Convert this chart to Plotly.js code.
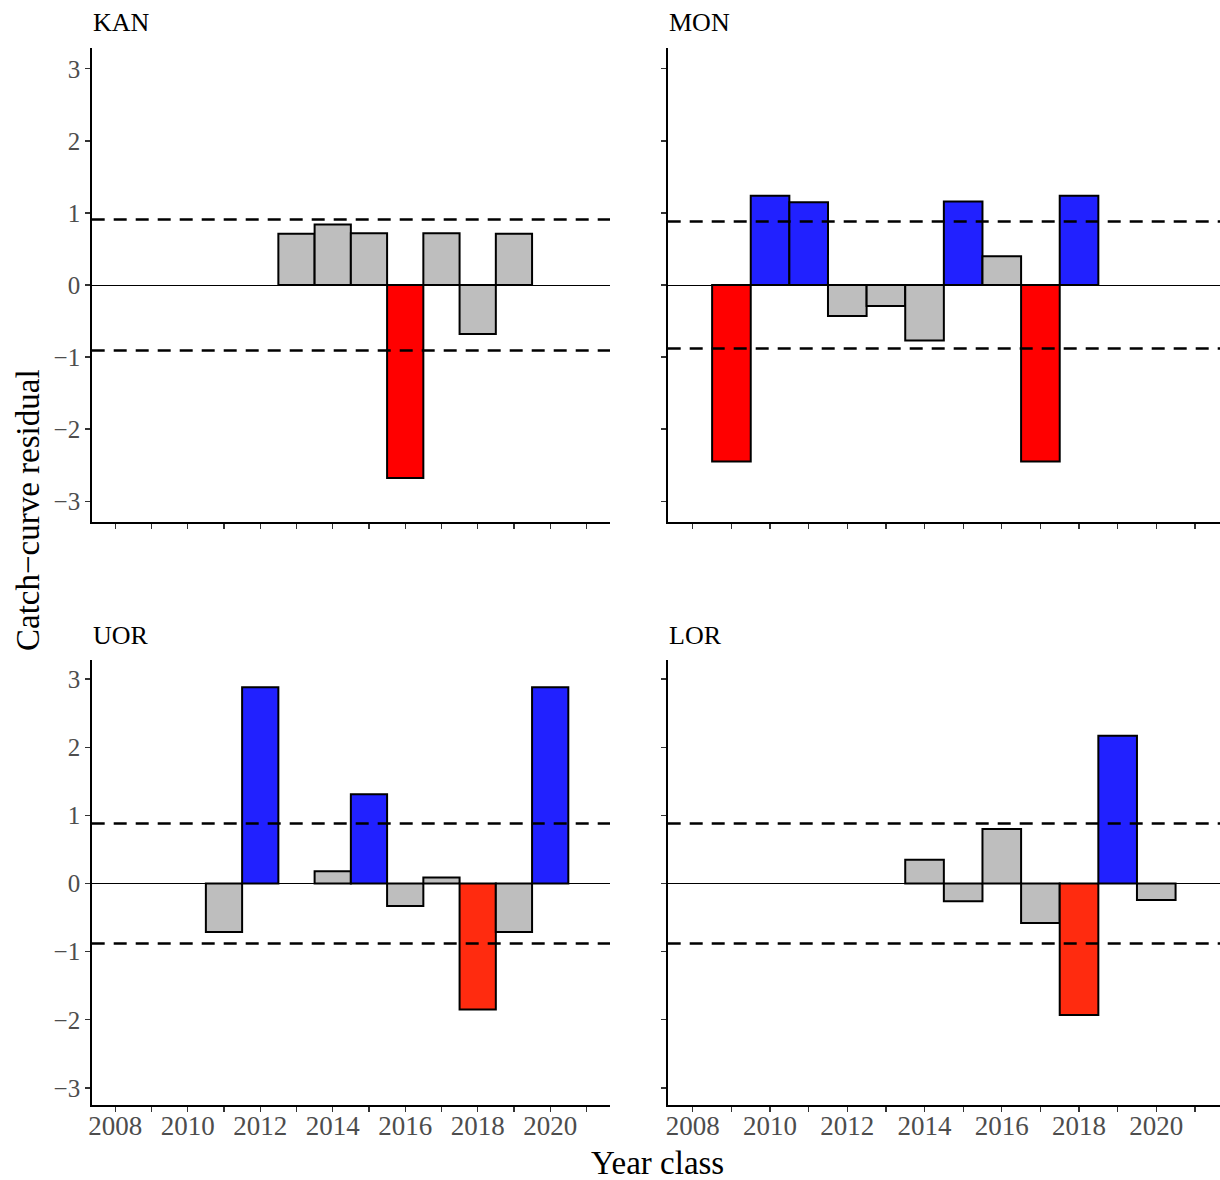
<!DOCTYPE html>
<html>
<head>
<meta charset="utf-8">
<script src="https://cdn.plot.ly/plotly-3.0.1.min.js"></script>
<style>
  html, body { margin: 0; padding: 0; background: #fff; }
  #chart { width: 1220px; height: 1180px; }
</style>
</head>
<body>
<div id="chart"></div>
<script>
// ---- Data ----
const panelNames = ["KAN", "MON", "UOR", "LOR"];

const kanYears = [2013, 2014, 2015, 2016, 2017, 2018, 2019];
const kanResid = [0.71, 0.84, 0.72, -2.68, 0.72, -0.68, 0.71];
const kanThreshold = 0.91;

const monYears = [2009, 2010, 2011, 2012, 2013, 2014, 2015, 2016, 2017, 2018];
const monResid = [-2.45, 1.24, 1.15, -0.43, -0.29, -0.77, 1.16, 0.40, -2.45, 1.24];
const monThreshold = 0.88;

const uorYears = [2011, 2012, 2014, 2015, 2016, 2017, 2018, 2019, 2020];
const uorResid = [-0.71, 2.88, 0.18, 1.31, -0.33, 0.09, -1.85, -0.71, 2.88];
const uorThreshold = 0.88;

const lorYears = [2014, 2015, 2016, 2017, 2018, 2019, 2020];
const lorResid = [0.35, -0.26, 0.80, -0.58, -1.93, 2.17, -0.24];
const lorThreshold = 0.88;

const xTickYears = [2008, 2009, 2010, 2011, 2012, 2013, 2014, 2015, 2016, 2017, 2018, 2019, 2020, 2021];
const yTickVals = [-3, -2, -1, 0, 1, 2, 3];
const xTitle = "Year class";
const yTitle = "Catch\u2212curve residual";

// ---- Styling ----
const W = 1220, H = 1180;
const FONT = 'Liberation Serif, Times New Roman, serif';
const GRAY = "#BEBEBE", BLUE = "#2121FF";
const RED_TOP = "#FF0000", RED_BOTTOM = "#FF2B0F";

const panels = [
  {name: panelNames[0], years: kanYears, vals: kanResid, thr: kanThreshold, red: RED_TOP,
   xd: [91.7, 610], yd: [48, 522], showY: true, showX: false},
  {name: panelNames[1], years: monYears, vals: monResid, thr: monThreshold, red: RED_TOP,
   xd: [667.7, 1220], yd: [48, 522], showY: false, showX: false},
  {name: panelNames[2], years: uorYears, vals: uorResid, thr: uorThreshold, red: RED_BOTTOM,
   xd: [91.7, 610], yd: [660, 1105], showY: true, showX: true},
  {name: panelNames[3], years: lorYears, vals: lorResid, thr: lorThreshold, red: RED_BOTTOM,
   xd: [667.7, 1220], yd: [660, 1105], showY: false, showX: true},
];

const traces = [];
const layout = {
  width: W, height: H,
  margin: {l: 0, r: 0, t: 0, b: 0},
  paper_bgcolor: "#fff", plot_bgcolor: "#fff",
  showlegend: false,
  font: {family: FONT, color: "#000"},
  shapes: [], annotations: []
};

const xTickText = xTickYears.map(y => (y % 2 === 0 ? String(y) : ""));

panels.forEach((p, i) => {
  const k = i === 0 ? "" : String(i + 1);
  const xa = "x" + k, ya = "y" + k;
  const colors = p.vals.map(v => v > p.thr ? BLUE : (v < -p.thr ? p.red : GRAY));
  traces.push({
    type: "bar", x: p.years, y: p.vals, xaxis: xa, yaxis: ya,
    width: 1,
    marker: {color: colors, line: {color: "#000", width: 2}},
    hoverinfo: "x+y"
  });
  const yRange = i < 2 ? [-3.29, 3.29] : [-3.25, 3.28];
  layout["xaxis" + k] = {
    domain: [p.xd[0] / W, p.xd[1] / W],
    anchor: ya,
    range: [2007.35, 2021.65],
    showgrid: false, zeroline: false,
    showline: true, linecolor: "#000", linewidth: 1.5,
    ticks: "outside", ticklen: 5, tickwidth: 1.2, tickcolor: "#333",
    tickvals: xTickYears, ticktext: xTickText,
    showticklabels: p.showX,
    ticklabelstandoff: -9,
    tickfont: {family: FONT, size: 27, color: "#4D4D4D"},
    fixedrange: true
  };
  layout["yaxis" + k] = {
    domain: [1 - p.yd[1] / H, 1 - p.yd[0] / H],
    anchor: xa,
    range: yRange,
    showgrid: false,
    zeroline: true, zerolinecolor: "#000", zerolinewidth: 1,
    showline: true, linecolor: "#000", linewidth: 1.5,
    ticks: "outside", ticklen: 5, tickwidth: 1.2, tickcolor: "#333",
    tickvals: yTickVals,
    showticklabels: p.showY,
    tickfont: {family: FONT, size: 25, color: "#4D4D4D"},
    fixedrange: true
  };
  [p.thr, -p.thr].forEach(t => {
    layout.shapes.push({
      type: "line", xref: xa + " domain", yref: ya,
      x0: 0, x1: 1, y0: t, y1: t,
      line: {color: "#000", width: 2.5, dash: "13px,9px"},
      layer: "above"
    });
  });
  layout.annotations.push({
    text: p.name, xref: "paper", yref: "paper",
    x: (p.xd[0] - 1) / W, y: 1 - (p.yd[0] - 25) / H,
    xanchor: "left", yanchor: "middle", showarrow: false,
    font: {family: FONT, size: 26, color: "#000"}
  });
});

layout.annotations.push({
  text: xTitle, xref: "paper", yref: "paper",
  x: 657 / W, y: 1 - 1163 / H, xanchor: "center", yanchor: "middle",
  showarrow: false, font: {family: FONT, size: 33, color: "#000"}
});
layout.annotations.push({
  text: yTitle, xref: "paper", yref: "paper",
  x: 28 / W, y: 1 - 510 / H, xanchor: "center", yanchor: "middle",
  textangle: -90, showarrow: false, font: {family: FONT, size: 33, color: "#000"}
});

Plotly.newPlot("chart", traces, layout, {staticPlot: true, displayModeBar: false});
</script>
</body>
</html>
